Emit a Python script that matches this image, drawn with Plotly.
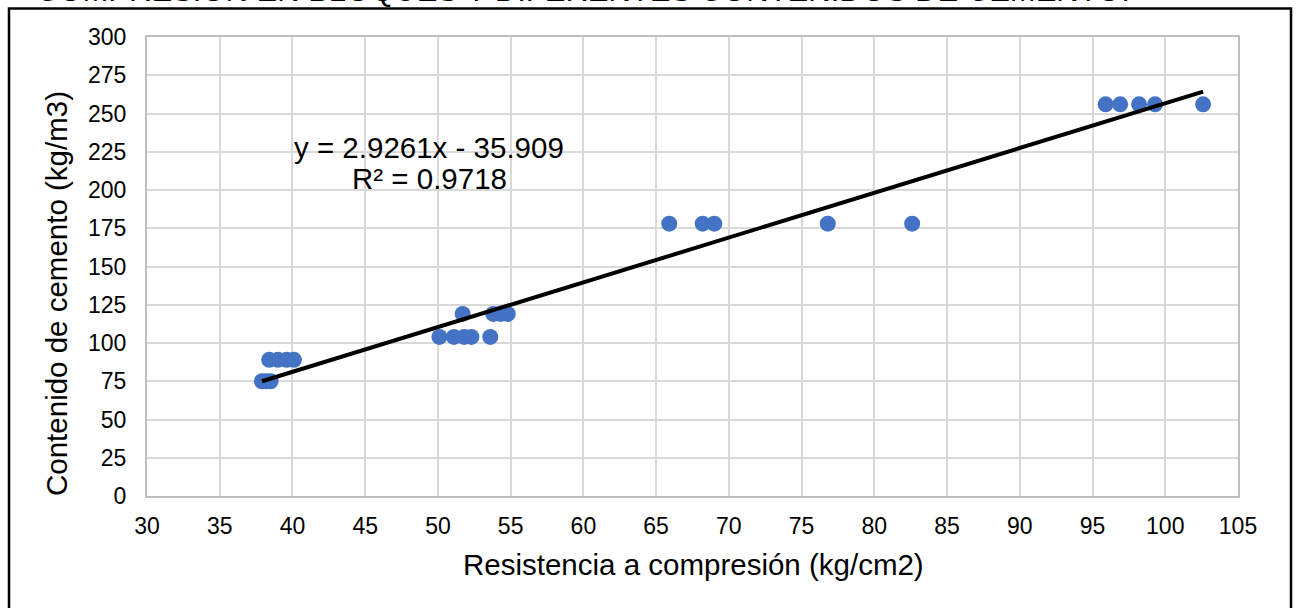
import plotly.graph_objects as go

# Compressive strength of blocks (kg/cm2) vs cement content (kg/m3)
resistencia = [
    37.9, 38.2, 38.5,
    38.4, 39.0, 39.6, 40.1,
    50.1, 51.1, 51.8, 52.3, 53.6,
    51.7, 53.8, 54.3, 54.8,
    65.9, 68.2, 69.0, 76.8, 82.6,
    95.9, 96.9, 98.2, 99.3, 102.6,
]
cemento = [
    75, 75, 75,
    89, 89, 89, 89,
    104, 104, 104, 104, 104,
    119, 119, 119, 119,
    178, 178, 178, 178, 178,
    256, 256, 256, 256, 256,
]

# Linear trendline coefficients
pendiente = 2.9261
intercepto = -35.909
r2 = 0.9718

x_ticks = list(range(30, 106, 5))
y_ticks = list(range(0, 301, 25))

FONT = "Liberation Sans, Arial, sans-serif"
W, H = 1299, 608
L, R, T, B = 147, 61, 37, 112
PW, PH = W - L - R, H - T - B


def px_x(px):
    return (px - L) / PW


def px_y(py):
    return (H - B - py) / PH


x_min, x_max = min(resistencia), max(resistencia)
trend_x = [x_min, x_max]
trend_y = [pendiente * v + intercepto for v in trend_x]

fig = go.Figure()
fig.add_trace(go.Scatter(
    x=resistencia, y=cemento, mode="markers",
    marker=dict(color="#4472C4", size=16, line=dict(width=0)),
    showlegend=False, cliponaxis=False,
))
fig.add_trace(go.Scatter(
    x=trend_x, y=trend_y, mode="lines",
    line=dict(color="#000000", width=4),
    showlegend=False,
))

eq_text = f"y = {pendiente}x - {abs(intercepto)}"
r2_text = f"R² = {r2}"

annotations = [
    dict(text=eq_text, x=px_x(429), y=px_y(147), xref="paper", yref="paper",
         showarrow=False, font=dict(size=29.5, color="#000", family=FONT),
         xanchor="center", yanchor="middle"),
    dict(text=r2_text, x=px_x(429), y=px_y(178), xref="paper", yref="paper",
         showarrow=False, font=dict(size=29.5, color="#000", family=FONT),
         xanchor="center", yanchor="middle"),
    dict(text="Resistencia a compresión (kg/cm2)", x=px_x(693), y=px_y(564),
         xref="paper", yref="paper", showarrow=False,
         font=dict(size=29.5, color="#000", family=FONT),
         xanchor="center", yanchor="middle"),
    dict(text="Contenido de cemento (kg/m3)", x=px_x(56), y=px_y(294),
         xref="paper", yref="paper", showarrow=False, textangle=-90,
         font=dict(size=29.5, color="#000", family=FONT),
         xanchor="center", yanchor="middle"),
    dict(text="COMPRESIÓN EN BLOQUES Y DIFERENTES CONTENIDOS DE CEMENTO.",
         x=px_x(34), y=px_y(10), xref="paper", yref="paper", showarrow=False,
         font=dict(size=31, color="#000", family=FONT),
         xanchor="left", yanchor="bottom"),
]

shapes = [
    dict(type="rect", xref="paper", yref="paper",
         x0=px_x(9), x1=px_x(1291), y0=px_y(660), y1=px_y(8.5),
         line=dict(color="#000", width=2.5), fillcolor="rgba(0,0,0,0)"),
]

axis_common = dict(
    showgrid=True, gridcolor="#d9d9d9", gridwidth=1.5,
    showline=True, linecolor="#bfbfbf", linewidth=2, mirror=True,
    zeroline=False, ticks="outside", tickcolor="rgba(0,0,0,0)",
    tickfont=dict(size=23, color="#000", family=FONT),
)

fig.update_layout(
    width=W, height=H,
    margin=dict(l=L, r=R, t=T, b=B, pad=0),
    paper_bgcolor="white", plot_bgcolor="white",
    xaxis=dict(range=[30, 105], tickvals=x_ticks, ticklen=8, **axis_common),
    yaxis=dict(range=[0, 300], tickvals=y_ticks, ticklen=14, **axis_common),
    annotations=annotations, shapes=shapes,
    font=dict(family=FONT),
)

fig.write_html("out.html")
